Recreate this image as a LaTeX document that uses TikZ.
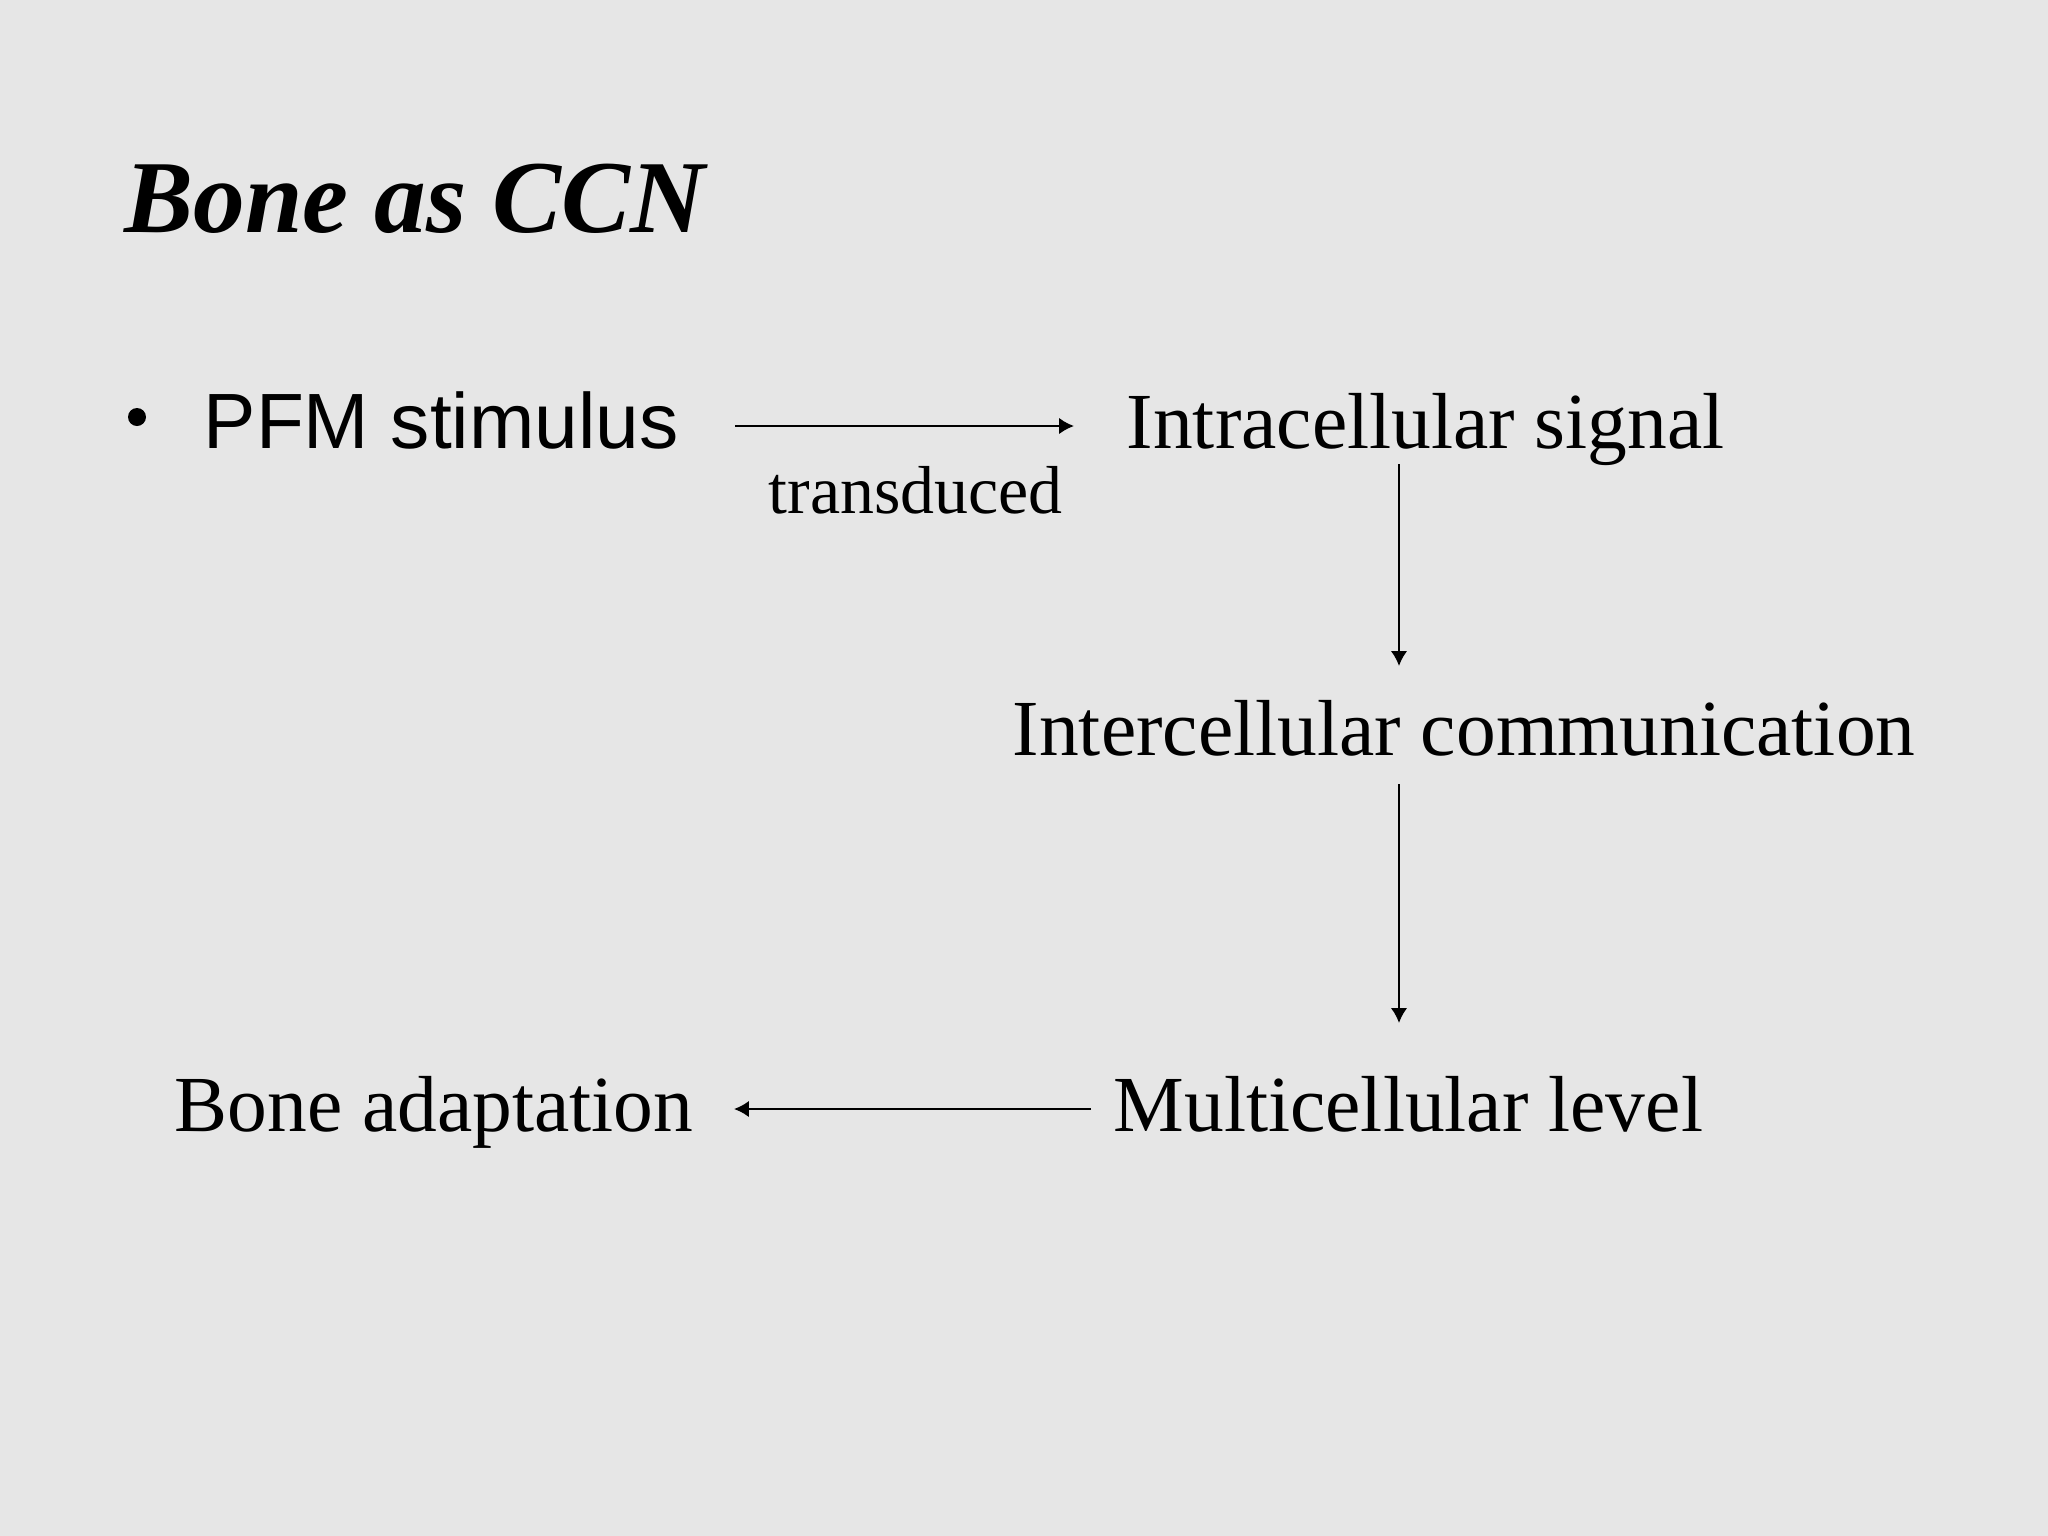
\documentclass[tikz,border=0pt]{standalone}
\usepackage{fontspec}
\setmainfont{Liberation Serif}
\newfontfamily\arialf{Liberation Sans}
\usetikzlibrary{arrows.meta}
\definecolor{bgc}{RGB}{230,230,230}
\begin{document}
\begin{tikzpicture}[x=0.01cm,y=-0.01cm,
  lbl/.style={inner sep=0pt, anchor=base west, font=\fontsize{22.6}{27}\selectfont},
  conn/.style={line width=0.6pt, -{Latex[length=4.2pt,width=4.6pt]}}]
\fill[bgc] (0,0) rectangle (2048,1536);
\useasboundingbox (0,0) rectangle (2048,1536);
% title
\node[inner sep=0pt, anchor=base west, font=\fontsize{29.4}{34}\selectfont\bfseries\itshape] (title) at (124,232) {Bone as CCN};
% bullet
\fill (137,417) circle (9);
\node[inner sep=0pt, anchor=base west, font=\fontsize{22.3}{26}\selectfont\arialf] (pfm) at (203,448) {PFM stimulus};
\node[lbl] (intra) at (1126,448) {Intracellular signal};
\node[inner sep=0pt, anchor=base west, font=\fontsize{19.3}{23}\selectfont] (trans) at (768,513) {transduced};
\node[lbl] (inter) at (1012,755) {Intercellular communication};
\node[lbl] (multi) at (1113,1131) {Multicellular level};
\node[lbl] (bone) at (174,1131) {Bone adaptation};
% connector end points
\coordinate (a1s) at (735,426);
\coordinate (a1e) at (1074,426);
\coordinate (a2s) at (1399,464);
\coordinate (a2e) at (1399,666);
\coordinate (a3s) at (1399,784);
\coordinate (a3e) at (1399,1023);
\coordinate (a4s) at (1091,1109);
\coordinate (a4e) at (734,1109);
\draw[conn] (a1s) -- (a1e);
\draw[conn] (a2s) -- (a2e);
\draw[conn] (a3s) -- (a3e);
\draw[conn] (a4s) -- (a4e);
\end{tikzpicture}
\end{document}
